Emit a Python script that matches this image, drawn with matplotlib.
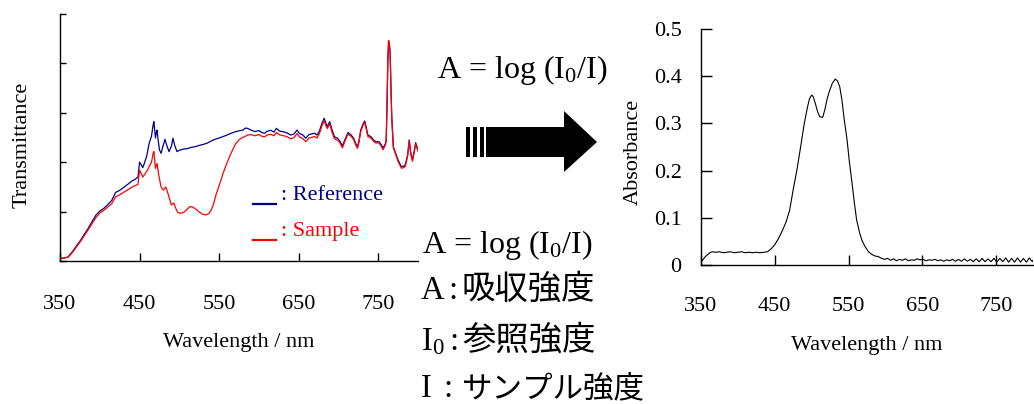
import matplotlib
matplotlib.use("Agg")
import matplotlib.pyplot as plt
from matplotlib.legend_handler import HandlerLine2D
from matplotlib.patches import Polygon, Rectangle

# --------------------------------------------------
# Data
# --------------------------------------------------

ref_wl = [350, 355, 360, 365, 370, 375, 380, 385, 390, 395, 400, 405, 410, 415,
          420, 425, 430, 435, 440, 445, 448, 450, 452, 454, 456, 459, 462, 465,
          467, 468, 469, 470, 471, 472, 473, 475, 477, 479, 482, 484, 487, 490,
          492, 494, 497, 500, 505, 510, 515, 520, 525, 530, 535, 540, 545, 550,
          555, 560, 565, 570, 575, 580, 583, 586, 590, 595, 600, 603, 607, 610,
          615, 619, 622, 626, 630, 635, 640, 644, 648, 651, 655, 659, 663, 667,
          670, 673, 676, 679, 682, 684, 686, 689, 692, 695, 699, 702, 705, 708,
          712, 716, 719, 722, 724, 726, 728, 731, 733, 735, 737, 741, 744, 747,
          751, 754, 756, 759, 760, 761, 762, 763, 764, 765, 766, 767, 769, 772,
          775, 779, 782, 784, 787, 789, 791, 793, 795, 797, 799, 800]
ref_t = [1.0, 1.2, 1.6, 3.5, 5.8, 8.0, 10.5, 13.0, 15.8, 18.5, 20.2, 21.3, 22.8,
         24.5, 27.8, 28.6, 29.8, 31.0, 32.3, 33.2, 34.0, 40.0, 39.0, 37.8, 39.5,
         42.5, 47.6, 50.5, 55.0, 56.4, 53.0, 49.8, 52.0, 53.0, 50.0, 45.0, 43.6,
         46.0, 49.3, 47.0, 44.3, 46.5, 49.7, 47.0, 44.3, 44.8, 45.3, 45.5, 46.0,
         46.3, 46.8, 47.2, 47.7, 48.6, 49.3, 49.8, 50.4, 51.0, 51.7, 52.3, 52.7,
         53.0, 53.8, 53.7, 53.0, 52.4, 52.8, 52.1, 51.7, 52.5, 52.9, 52.2, 53.7,
         52.6, 52.4, 51.9, 51.0, 51.4, 53.0, 51.6, 51.1, 49.7, 51.2, 51.5, 51.7,
         51.0, 52.5, 55.5, 57.8, 56.0, 54.4, 56.4, 53.0, 50.3, 49.7, 48.4, 46.6,
         49.0, 52.0, 51.0, 49.8, 47.3, 46.3, 49.0, 53.0, 55.5, 56.7, 54.0, 51.0,
         50.3, 49.0, 48.3, 48.3, 47.0, 45.6, 47.5, 49.0, 62.0, 80.0, 89.2, 88.0,
         84.0, 70.0, 58.4, 46.3, 43.5, 40.9, 38.2, 38.4, 38.9, 43.0, 49.0, 43.6,
         41.0, 44.0, 47.9, 46.0, 45.0]

smp_wl = [350, 355, 360, 365, 370, 375, 380, 385, 390, 395, 400, 405, 410, 415,
          420, 425, 430, 435, 440, 445, 448, 450, 452, 454, 457, 460, 462, 465,
          467, 468, 469, 470, 472, 474, 477, 480, 483, 486, 490, 493, 496, 498,
          502, 506, 510, 513, 517, 521, 525, 529, 533, 537, 540, 543, 546, 550,
          555, 559, 563, 567, 571, 575, 579, 582, 586, 590, 595, 600, 603, 607,
          610, 615, 619, 622, 626, 630, 635, 640, 644, 648, 651, 655, 659, 663,
          667, 670, 673, 676, 679, 682, 684, 686, 689, 692, 695, 699, 702, 705,
          708, 712, 716, 719, 722, 724, 726, 728, 731, 733, 735, 737, 741, 744,
          747, 751, 754, 756, 759, 760, 761, 762, 763, 764, 765, 766, 767, 769,
          772, 775, 779, 782, 784, 787, 789, 791, 793, 795, 797, 799, 800]
smp_t = [1.0, 1.2, 1.5, 3.2, 5.4, 7.6, 10.0, 12.4, 15.0, 17.5, 19.4, 20.5, 21.8,
         23.2, 26.0, 26.8, 27.8, 28.8, 29.8, 30.6, 31.0, 36.8, 35.5, 34.0, 35.3,
         36.8, 38.2, 40.0, 43.5, 44.3, 41.0, 37.5, 39.5, 35.0, 30.0, 28.7, 30.0,
         27.0, 22.7, 23.5, 21.0, 19.6, 19.3, 19.8, 21.0, 22.0, 21.8, 20.9, 19.8,
         19.0, 18.6, 19.2, 20.6, 23.0, 26.7, 30.5, 35.5, 39.0, 42.2, 45.0, 47.6,
         49.0, 50.0, 50.3, 51.0, 51.2, 50.7, 51.2, 50.6, 50.2, 51.0, 51.3, 50.7,
         52.0, 51.1, 50.8, 50.4, 49.5, 49.9, 51.6, 50.2, 49.6, 48.3, 49.8, 50.1,
         50.4, 49.8, 51.5, 54.5, 56.8, 55.0, 53.6, 55.6, 52.0, 49.5, 48.9, 47.8,
         45.8, 48.4, 51.4, 50.4, 49.2, 46.8, 45.6, 48.4, 52.4, 55.0, 56.2, 53.4,
         50.4, 49.7, 48.5, 47.8, 47.8, 46.4, 45.0, 47.0, 48.5, 62.0, 80.0, 89.2,
         88.0, 84.0, 70.0, 58.0, 45.8, 43.0, 40.3, 37.6, 37.8, 38.3, 42.5, 48.6,
         43.0, 40.4, 43.5, 47.4, 45.4, 44.5]

abs_wl = [350, 353, 356, 359, 362, 365, 370, 375, 380, 385, 390, 395, 400, 405,
          410, 415, 420, 425, 430, 435, 440, 445, 450, 455, 460, 465, 470, 475,
          480, 485, 490, 494, 497, 500, 502, 505, 508, 511, 515, 518, 521, 524,
          528, 532, 535, 538, 541, 544, 548, 551, 555, 558, 561, 565, 568, 572,
          577, 582, 586, 590, 595, 599, 603, 607, 611, 615, 619, 623, 627, 631,
          635, 639, 643, 647, 651, 655, 659, 663, 667, 671, 675, 679, 683, 687,
          691, 695, 699, 703, 707, 711, 715, 719, 723, 727, 731, 735, 739, 743,
          747, 751, 755, 759, 763, 767, 771, 775, 779, 783, 787, 791, 795, 799,
          800]
abs_a = [0.007, 0.012, 0.018, 0.022, 0.026, 0.028, 0.027, 0.028, 0.026, 0.027,
         0.028, 0.026, 0.027, 0.028, 0.026, 0.027, 0.026, 0.027, 0.026, 0.027,
         0.028, 0.034, 0.043, 0.056, 0.072, 0.090, 0.115, 0.160, 0.201, 0.250,
         0.300, 0.332, 0.352, 0.360, 0.357, 0.342, 0.325, 0.314, 0.313, 0.330,
         0.352, 0.368, 0.385, 0.394, 0.390, 0.378, 0.350, 0.310, 0.265, 0.220,
         0.170, 0.130, 0.095, 0.068, 0.053, 0.040, 0.028, 0.022, 0.019, 0.018,
         0.014, 0.012, 0.014, 0.010, 0.013, 0.009, 0.012, 0.010, 0.013, 0.009,
         0.011, 0.010, 0.013, 0.011, 0.012, 0.009, 0.011, 0.010, 0.012, 0.009,
         0.011, 0.008, 0.011, 0.009, 0.012, 0.008, 0.012, 0.008, 0.013, 0.008,
         0.012, 0.007, 0.013, 0.007, 0.014, 0.007, 0.013, 0.007, 0.014, 0.006,
         0.014, 0.007, 0.015, 0.006, 0.014, 0.006, 0.015, 0.006, 0.014, 0.006,
         0.015, 0.007, 0.010]

wl_ticks = [350, 450, 550, 650, 750]
abs_ticks = [0, 0.1, 0.2, 0.3, 0.4, 0.5]
abs_tick_labels = ["0", "0.1", "0.2", "0.3", "0.4", "0.5"]

# --------------------------------------------------
# Style
# --------------------------------------------------

plt.rcParams["font.family"] = ["Liberation Serif", "Noto Sans CJK JP"]
plt.rcParams["mathtext.fontset"] = "custom"
plt.rcParams["mathtext.rm"] = "Liberation Serif"
plt.rcParams["mathtext.it"] = "Liberation Serif:italic"
plt.rcParams["font.size"] = 16

NAVY = "#000088"
RED = "#ff0000"
JP = "Noto Sans CJK JP"

W, H = 1034, 404
fig = plt.figure(figsize=(W / 100, H / 100), dpi=100)


def px_axes(x0, y0, x1, y1):
    # pixel box (top-left origin) -> figure fraction
    return [x0 / W, 1 - y1 / H, (x1 - x0) / W, (y1 - y0) / H]


def tidy(ax):
    for side in ["top", "right"]:
        ax.spines[side].set_visible(False)
    for side in ["left", "bottom"]:
        ax.spines[side].set_linewidth(1.0)


class UnderlineHandler(HandlerLine2D):
    # legend key drawn as a short line just under the text baseline
    def create_artists(self, legend, orig_handle, xdescent, ydescent,
                       width, height, fontsize, trans):
        artists = super().create_artists(legend, orig_handle, xdescent,
                                         ydescent, width, height, fontsize,
                                         trans)
        for a in artists:
            a.set_ydata([-3.0] * len(a.get_xdata()))
        return artists


# --------------------------------------------------
# Transmittance chart
# --------------------------------------------------

ax1 = fig.add_axes(px_axes(60, 14, 418, 261))
tidy(ax1)

ref_line, = ax1.plot(ref_wl, ref_t, color=NAVY, linewidth=0.9)
smp_line, = ax1.plot(smp_wl, smp_t, color=RED, linewidth=0.9)

ax1.set_xlim(350, 800)
ax1.set_ylim(0, 100)
ax1.set_xticks(wl_ticks)
ax1.set_yticks([0, 20, 40, 60, 80, 100])
ax1.set_yticklabels([])
ax1.tick_params(axis="x", direction="in", length=6, width=1, pad=24.5)
ax1.tick_params(axis="y", direction="in", length=4, width=1)

ax1.set_xlabel("Wavelength / nm", fontsize=16)
ax1.xaxis.set_label_coords(0.5, -0.292)
ax1.set_ylabel("Transmittance", fontsize=16)
ax1.yaxis.set_label_coords(-0.08, 0.47)

leg = ax1.legend(
    [ref_line, smp_line],
    [": Reference", ": Sample"],
    loc="upper left",
    bbox_to_anchor=(0.539, 0.31),
    frameon=False,
    handlelength=1.05,
    handletextpad=0.2,
    labelspacing=0.7,
    borderpad=0,
    borderaxespad=0,
    fontsize=16,
    labelcolor="linecolor",
    handler_map={ref_line: UnderlineHandler(), smp_line: UnderlineHandler()},
)
for h in leg.get_lines():
    h.set_linewidth(1.6)

# --------------------------------------------------
# Absorbance chart
# --------------------------------------------------

ax2 = fig.add_axes(px_axes(701, 29, 1033, 265))
tidy(ax2)

ax2.plot(abs_wl, abs_a, color="black", linewidth=0.8)

ax2.set_xlim(350, 800)
ax2.set_ylim(0, 0.5)
ax2.set_xticks(wl_ticks)
ax2.set_yticks(abs_ticks)
ax2.set_yticklabels(abs_tick_labels)
ax2.tick_params(axis="x", direction="in", length=7, width=1, pad=23)
ax2.tick_params(axis="y", direction="in", length=8, width=1, pad=14)

ax2.set_xlabel("Wavelength / nm", fontsize=16)
ax2.xaxis.set_label_coords(0.5, -0.299)
ax2.set_ylabel("Absorbance", fontsize=16)
ax2.yaxis.set_label_coords(-0.175, 0.48)

# --------------------------------------------------
# Formula, arrow and notes (pixel overlay)
# --------------------------------------------------

ov = fig.add_axes([0, 0, 1, 1])
ov.set_xlim(0, W)
ov.set_ylim(H, 0)
ov.set_axis_off()

formula = r"A = log (I$_\mathrm{0}$/I)"
ov.text(437, 78, formula, fontsize=23, va="baseline", ha="left")
ov.text(422, 253, formula, fontsize=23, va="baseline", ha="left")

# symbol, colon x, japanese text, font size, baseline
notes = [
    ("A", 448, "吸収強度", 24, 299),
    (r"I$_\mathrm{0}$", 449, "参照強度", 24, 350),
    ("I", 443, "サンプル強度", 22, 397),
]
for sym, cx, jp, size, base in notes:
    ov.text(421, base, sym, fontsize=23.5, va="baseline", ha="left")
    ov.text(cx, base, ":", fontsize=23.5, va="baseline", ha="left")
    ov.text(462, base, jp, fontsize=size, va="baseline", ha="left", family=JP)

# block arrow with three stripes at its tail
for x0 in [466, 473, 480]:
    ov.add_patch(Rectangle((x0, 127), 4, 30, color="black", lw=0))
ov.add_patch(Polygon(
    [(486, 127), (564, 127), (564, 111), (597, 142), (564, 172),
     (564, 157), (486, 157)],
    closed=True, color="black", lw=0,
))

fig.savefig("out.png", dpi=100)
